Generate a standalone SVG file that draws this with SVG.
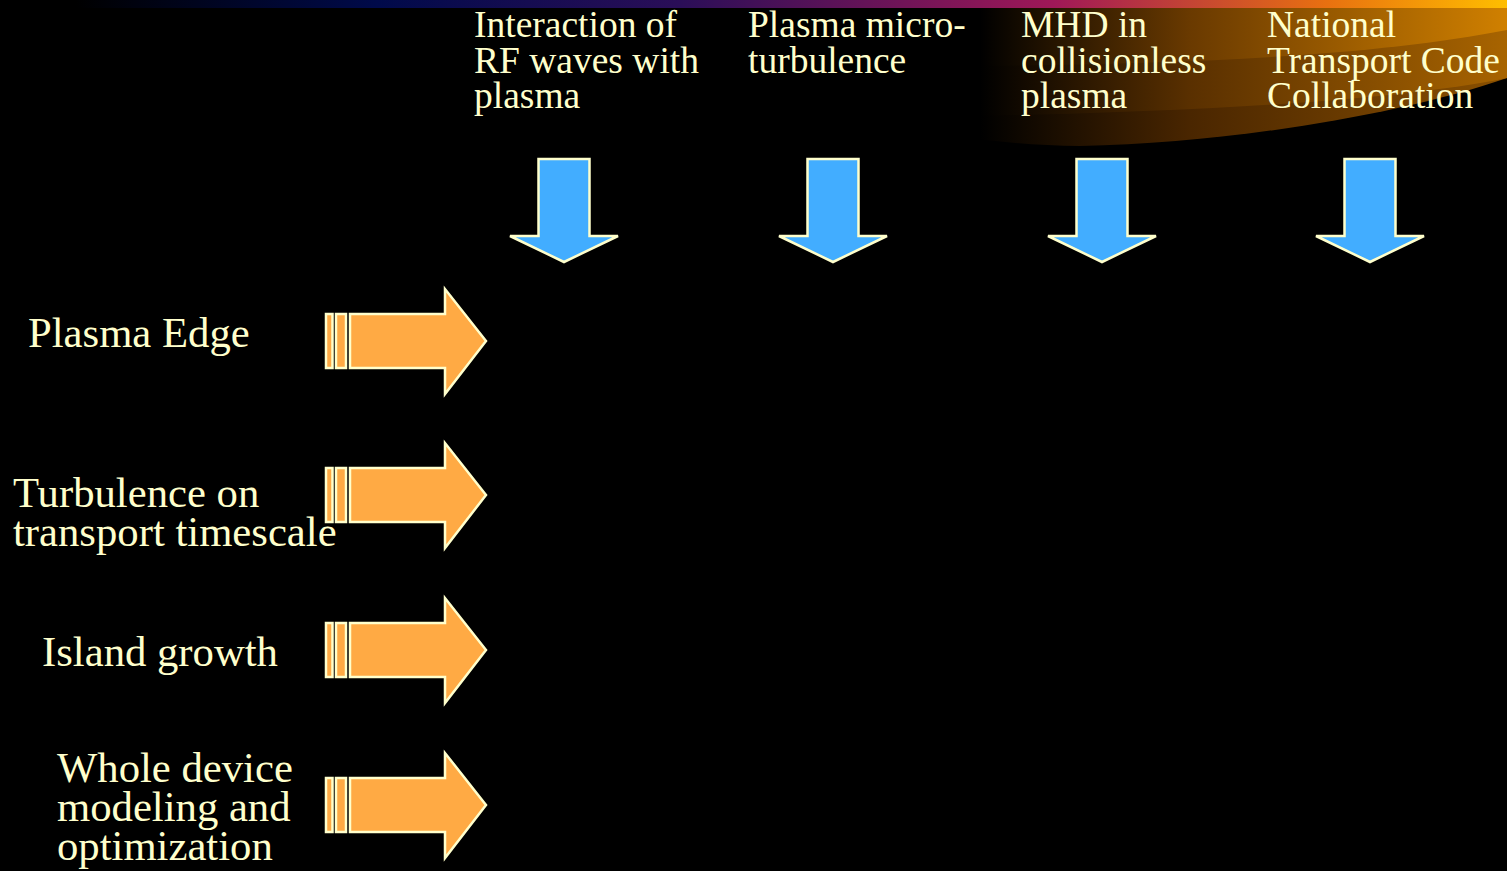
<svg xmlns="http://www.w3.org/2000/svg" xmlns:xlink="http://www.w3.org/1999/xlink" width="1507" height="871" viewBox="0 0 1507 871">
<style>
.t{font-family:"Liberation Serif","Times New Roman",serif;fill:#FFFFCC}
.h{font-size:37.5px}
.l{font-size:42.7px}
.blue{fill:#42ADFF;stroke:#FFFFCC;stroke-width:2.5;stroke-linejoin:miter}
.orange{fill:#FFAA44;stroke:#FFFFCC;stroke-width:2.5;stroke-linejoin:miter}
</style>
<defs>
<linearGradient id="bar" x1="0" y1="0" x2="1507" y2="0" gradientUnits="userSpaceOnUse">
<stop offset="0.05" stop-color="#000000"/>
<stop offset="0.25" stop-color="#000A4A"/>
<stop offset="0.45" stop-color="#2A0E58"/>
<stop offset="0.7" stop-color="#A01858"/>
<stop offset="0.88" stop-color="#E87010"/>
<stop offset="1" stop-color="#FFBE00"/>
</linearGradient>
<linearGradient id="sw1" x1="980" y1="0" x2="1507" y2="0" gradientUnits="userSpaceOnUse">
<stop offset="0" stop-color="#000000"/>
<stop offset="0.4" stop-color="#6A3A00"/>
<stop offset="1" stop-color="#D08000"/>
</linearGradient>
<linearGradient id="sw2" x1="980" y1="0" x2="1507" y2="0" gradientUnits="userSpaceOnUse">
<stop offset="0" stop-color="#000000"/>
<stop offset="0.4" stop-color="#5A3000"/>
<stop offset="1" stop-color="#A86400"/>
</linearGradient>
<linearGradient id="sw3" x1="980" y1="0" x2="1507" y2="0" gradientUnits="userSpaceOnUse">
<stop offset="0" stop-color="#000000"/>
<stop offset="0.4" stop-color="#4A2600"/>
<stop offset="1" stop-color="#8A5000"/>
</linearGradient>
<path id="down" class="blue" d="M-25.5 159 L25.5 159 L25.5 236 L54 236 L0 262 L-54 236 L-25.5 236 Z"/>
<g id="right">
<rect class="orange" x="326" y="-27" width="6.5" height="54"/>
<rect class="orange" x="336" y="-27" width="10" height="54"/>
<path class="orange" d="M350 -27 L445 -27 L445 -52 L486 0 L445 53 L445 27 L350 27 Z"/>
</g>
</defs>
<rect x="0" y="0" width="1507" height="871" fill="#000000"/>
<g id="background">
<path d="M970 8 L1507 8 L1507 78 C1400 115 1230 143 1080 146 C1040 146 1000 142 970 138 Z" fill="url(#sw3)"/>
<path d="M970 8 L1507 8 L1507 78 C1400 100 1200 112 970 116 Z" fill="url(#sw2)"/>
<path d="M970 8 L1507 8 L1507 30 C1380 55 1200 64 970 66 Z" fill="url(#sw1)"/>
<rect x="0" y="0" width="1507" height="8" fill="url(#bar)"/>
</g>
<g id="col1"><use xlink:href="#down" x="564"/>
<text class="t h" x="474" y="37">Interaction of</text>
<text class="t h" x="474" y="73">RF waves with</text>
<text class="t h" x="474" y="108">plasma</text></g>
<g id="col2"><use xlink:href="#down" x="833"/>
<text class="t h" x="748" y="37">Plasma micro-</text>
<text class="t h" x="748" y="73">turbulence</text></g>
<g id="col3"><use xlink:href="#down" x="1102"/>
<text class="t h" x="1021" y="37">MHD in</text>
<text class="t h" x="1021" y="73">collisionless</text>
<text class="t h" x="1021" y="108">plasma</text></g>
<g id="col4"><use xlink:href="#down" x="1370"/>
<text class="t h" x="1267" y="37">National</text>
<text class="t h" x="1267" y="73">Transport Code</text>
<text class="t h" x="1267" y="108">Collaboration</text></g>
<g id="row1"><use xlink:href="#right" y="341"/>
<text class="t l" x="28" y="347">Plasma Edge</text></g>
<g id="row2"><use xlink:href="#right" y="495"/>
<text class="t l" x="13" y="507">Turbulence on</text>
<text class="t l" x="13" y="546">transport timescale</text></g>
<g id="row3"><use xlink:href="#right" y="650"/>
<text class="t l" x="42" y="666">Island growth</text></g>
<g id="row4"><use xlink:href="#right" y="805"/>
<text class="t l" x="57" y="782">Whole device</text>
<text class="t l" x="57" y="821">modeling and</text>
<text class="t l" x="57" y="860">optimization</text></g>
<g id="connectors"></g>
</svg>
